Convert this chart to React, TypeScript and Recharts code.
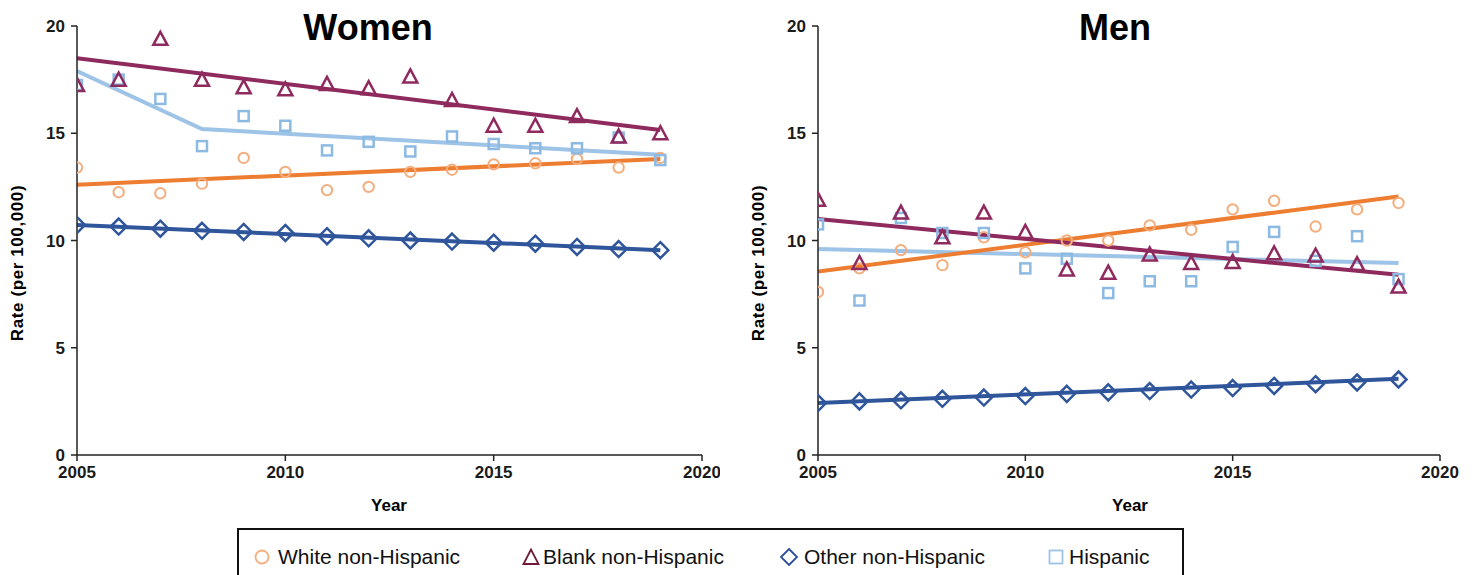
import { ComposedChart, Line, XAxis, YAxis } from "recharts";

const FONT = "'Liberation Sans', Arial, sans-serif";

const years = [2005, 2006, 2007, 2008, 2009, 2010, 2011, 2012, 2013, 2014, 2015, 2016, 2017, 2018, 2019];
const xTicks = [2005, 2010, 2015, 2020];
const yTicks = [0, 5, 10, 15, 20];

// Women observed rates
const womenWhite = [13.4, 12.25, 12.2, 12.65, 13.85, 13.2, 12.35, 12.5, 13.2, 13.3, 13.55, 13.6, 13.8, 13.4, 13.85];
const womenBlack = [17.25, 17.5, 19.4, 17.5, 17.15, 17.05, 17.3, 17.1, 17.65, 16.55, 15.35, 15.35, 15.8, 14.85, 15.0];
const womenOther = [10.72, 10.65, 10.55, 10.45, 10.4, 10.35, 10.2, 10.1, 10.0, 9.95, 9.9, 9.85, 9.7, 9.6, 9.55];
const womenHisp = [17.25, 17.5, 16.6, 14.4, 15.8, 15.35, 14.2, 14.6, 14.15, 14.85, 14.5, 14.3, 14.3, 14.8, 13.75];

// Women fitted trends (end points and joinpoints only)
const womenWhiteFit = [12.6, null, null, null, null, null, null, null, null, null, null, null, null, null, 13.8];
const womenBlackFit = [18.5, null, null, null, null, null, null, null, null, null, null, null, null, null, 15.15];
const womenOtherFit = [10.72, null, null, null, null, null, null, null, null, null, null, null, null, null, 9.55];
const womenHispFit = [17.9, null, null, 15.2, null, null, null, null, null, null, null, null, null, null, 14.0];

// Men observed rates
const menWhite = [7.6, 8.7, 9.55, 8.85, 10.15, 9.45, 10.0, 10.0, 10.7, 10.5, 11.45, 11.85, 10.65, 11.45, 11.75];
const menBlack = [11.9, 8.95, 11.3, 10.15, 11.3, 10.4, 8.65, 8.5, 9.35, 8.95, 9.0, 9.4, 9.3, 8.9, 7.85];
const menOther = [2.42, 2.5, 2.55, 2.62, 2.68, 2.75, 2.85, 2.92, 2.98, 3.05, 3.12, 3.22, 3.3, 3.38, 3.52];
const menHisp = [10.75, 7.2, 11.05, 10.35, 10.35, 8.7, 9.15, 7.55, 8.1, 8.1, 9.7, 10.4, 9.05, 10.2, 8.2];

// Men fitted trends
const menWhiteFit = [8.55, null, null, null, null, null, null, null, null, null, null, null, null, null, 12.05];
const menBlackFit = [11.0, null, null, null, null, null, null, null, null, null, null, null, null, null, 8.4];
const menOtherFit = [2.42, null, null, null, null, null, null, null, null, null, null, null, null, null, 3.55];
const menHispFit = [9.6, null, null, null, null, null, null, null, null, null, null, null, null, null, 8.95];

const legendLabels = ["White non-Hispanic", "Blank non-Hispanic", "Other non-Hispanic", "Hispanic"];

const C = {
  whiteLine: "#ED7D31",
  whiteDot: "#F4AE7E",
  black: "#8E2A5E",
  other: "#2F559B",
  hispLine: "#9DC3E6",
  hispDot: "#8DBAE3",
};

type Shape = "circle" | "triangle" | "diamond" | "square";

function marker(kind: Shape, color: string) {
  return (p: any) => {
    const { cx, cy, index } = p;
    if (cx == null || cy == null || p.value == null) return <g key={index} />;
    if (kind === "circle")
      return <circle key={index} cx={cx} cy={cy} r={5.2} fill="none" stroke={color} strokeWidth={2} />;
    if (kind === "triangle")
      return (
        <polygon
          key={index}
          points={`${cx},${cy - 7} ${cx - 7},${cy + 6} ${cx + 7},${cy + 6}`}
          fill="none"
          stroke={color}
          strokeWidth={2.5}
        />
      );
    if (kind === "diamond")
      return (
        <polygon
          key={index}
          points={`${cx},${cy - 8} ${cx + 8},${cy} ${cx},${cy + 8} ${cx - 8},${cy}`}
          fill="none"
          stroke={color}
          strokeWidth={2.5}
        />
      );
    return <rect key={index} x={cx - 5} y={cy - 5} width={10} height={10} fill="none" stroke={color} strokeWidth={2.5} />;
  };
}

function rows(w: number[], b: number[], o: number[], h: number[], wf: any[], bf: any[], of: any[], hf: any[]) {
  return years.map((year, i) => ({
    year,
    w: w[i], b: b[i], o: o[i], h: h[i],
    wf: wf[i], bf: bf[i], of: of[i], hf: hf[i],
  }));
}

const axisStroke = { stroke: "#222", strokeWidth: 1.5 };
const tickStyle = { fill: "#1a1a1a", fontSize: 17, fontWeight: 700, fontFamily: FONT };

function Panel({ data, left, marginLeft, marginRight }: { data: any[]; left: number; marginLeft: number; marginRight: number }) {
  return (
    <div style={{ position: "absolute", left, top: 0 }}>
      <ComposedChart width={720} height={520} data={data} margin={{ top: 26, right: marginRight, left: marginLeft, bottom: 35 }}>
        <XAxis
          type="number"
          dataKey="year"
          domain={[2005, 2020]}
          ticks={xTicks}
          axisLine={axisStroke}
          tickLine={axisStroke}
          tickSize={6}
          tick={{ ...tickStyle, dy: 3 }}
          height={30}
          allowDataOverflow
        />
        <YAxis
          type="number"
          domain={[0, 20]}
          ticks={yTicks}
          axisLine={axisStroke}
          tickLine={axisStroke}
          tickSize={6}
          tick={{ ...tickStyle, dx: -4 }}
          width={40}
        />
        <Line dataKey="hf" stroke={C.hispLine} strokeWidth={4} dot={false} activeDot={false} connectNulls isAnimationActive={false} />
        <Line dataKey="wf" stroke={C.whiteLine} strokeWidth={4} dot={false} activeDot={false} connectNulls isAnimationActive={false} />
        <Line dataKey="bf" stroke={C.black} strokeWidth={4} dot={false} activeDot={false} connectNulls isAnimationActive={false} />
        <Line dataKey="of" stroke={C.other} strokeWidth={4} dot={false} activeDot={false} connectNulls isAnimationActive={false} />
        <Line dataKey="w" stroke="none" dot={marker("circle", C.whiteDot)} activeDot={false} isAnimationActive={false} />
        <Line dataKey="h" stroke="none" dot={marker("square", C.hispDot)} activeDot={false} isAnimationActive={false} />
        <Line dataKey="b" stroke="none" dot={marker("triangle", C.black)} activeDot={false} isAnimationActive={false} />
        <Line dataKey="o" stroke="none" dot={marker("diamond", C.other)} activeDot={false} isAnimationActive={false} />
      </ComposedChart>
    </div>
  );
}

function Label({ text, x, y, size, rotate }: { text: string; x: number; y: number; size: number; rotate?: boolean }) {
  return (
    <div
      style={{
        position: "absolute",
        left: x,
        top: y,
        transform: `translate(-50%, -50%)${rotate ? " rotate(-90deg)" : ""}`,
        fontFamily: FONT,
        fontWeight: 700,
        fontSize: size,
        whiteSpace: "nowrap",
        color: "#000",
        letterSpacing: rotate ? 0.6 : 0,
      }}
    >
      {text}
    </div>
  );
}

function LegendIcon({ kind }: { kind: Shape }) {
  let el;
  if (kind === "circle") el = <circle cx={9} cy={9} r={6.5} fill="none" stroke="#F4AE7E" strokeWidth={1.8} />;
  else if (kind === "triangle") el = <polygon points="9,1.5 1.5,16 16.5,16" fill="none" stroke="#6E1A3A" strokeWidth={1.8} />;
  else if (kind === "diamond") el = <polygon points="9,1 17,9 9,17 1,9" fill="none" stroke="#2B4C9B" strokeWidth={1.8} />;
  else el = <rect x={2.5} y={2.5} width={13} height={13} fill="none" stroke="#9DC3E6" strokeWidth={1.8} />;
  return (
    <svg width={18} height={18} style={{ position: "absolute", top: -9, left: -9 }}>
      {el}
    </svg>
  );
}

const legendIcons: Shape[] = ["circle", "triangle", "diamond", "square"];
const legendIconX = [262, 531, 789, 1056];
const legendTextX = [278, 543, 804, 1069];

export default function App() {
  const women = rows(womenWhite, womenBlack, womenOther, womenHisp, womenWhiteFit, womenBlackFit, womenOtherFit, womenHispFit);
  const men = rows(menWhite, menBlack, menOther, menHisp, menWhiteFit, menBlackFit, menOtherFit, menHispFit);
  return (
    <div style={{ position: "absolute", left: 0, top: 0, width: 1473, height: 575, background: "#fff", overflow: "hidden" }}>
      <Panel data={women} left={0} marginLeft={37} marginRight={18} />
      <Panel data={men} left={740} marginLeft={38} marginRight={20} />
      <Label text="Women" x={368} y={28} size={36} />
      <Label text="Men" x={1115} y={28} size={36} />
      <Label text="Rate (per 100,000)" x={18} y={263} size={17} rotate />
      <Label text="Rate (per 100,000)" x={759} y={263} size={17} rotate />
      <Label text="Year" x={389} y={506} size={17} />
      <Label text="Year" x={1130} y={506} size={17} />
      <div
        style={{
          position: "absolute",
          left: 237,
          top: 528,
          width: 947,
          height: 70,
          border: "2px solid #111",
          boxSizing: "border-box",
        }}
      />
      {legendLabels.map((t, i) => (
        <div key={t}>
          <div style={{ position: "absolute", left: legendIconX[i], top: 557 }}>
            <LegendIcon kind={legendIcons[i]} />
          </div>
          <div
            style={{
              position: "absolute",
              left: legendTextX[i],
              top: 557,
              transform: "translateY(-50%)",
              fontFamily: FONT,
              fontSize: 21,
              color: "#111",
              whiteSpace: "nowrap",
            }}
          >
            {t}
          </div>
        </div>
      ))}
    </div>
  );
}
